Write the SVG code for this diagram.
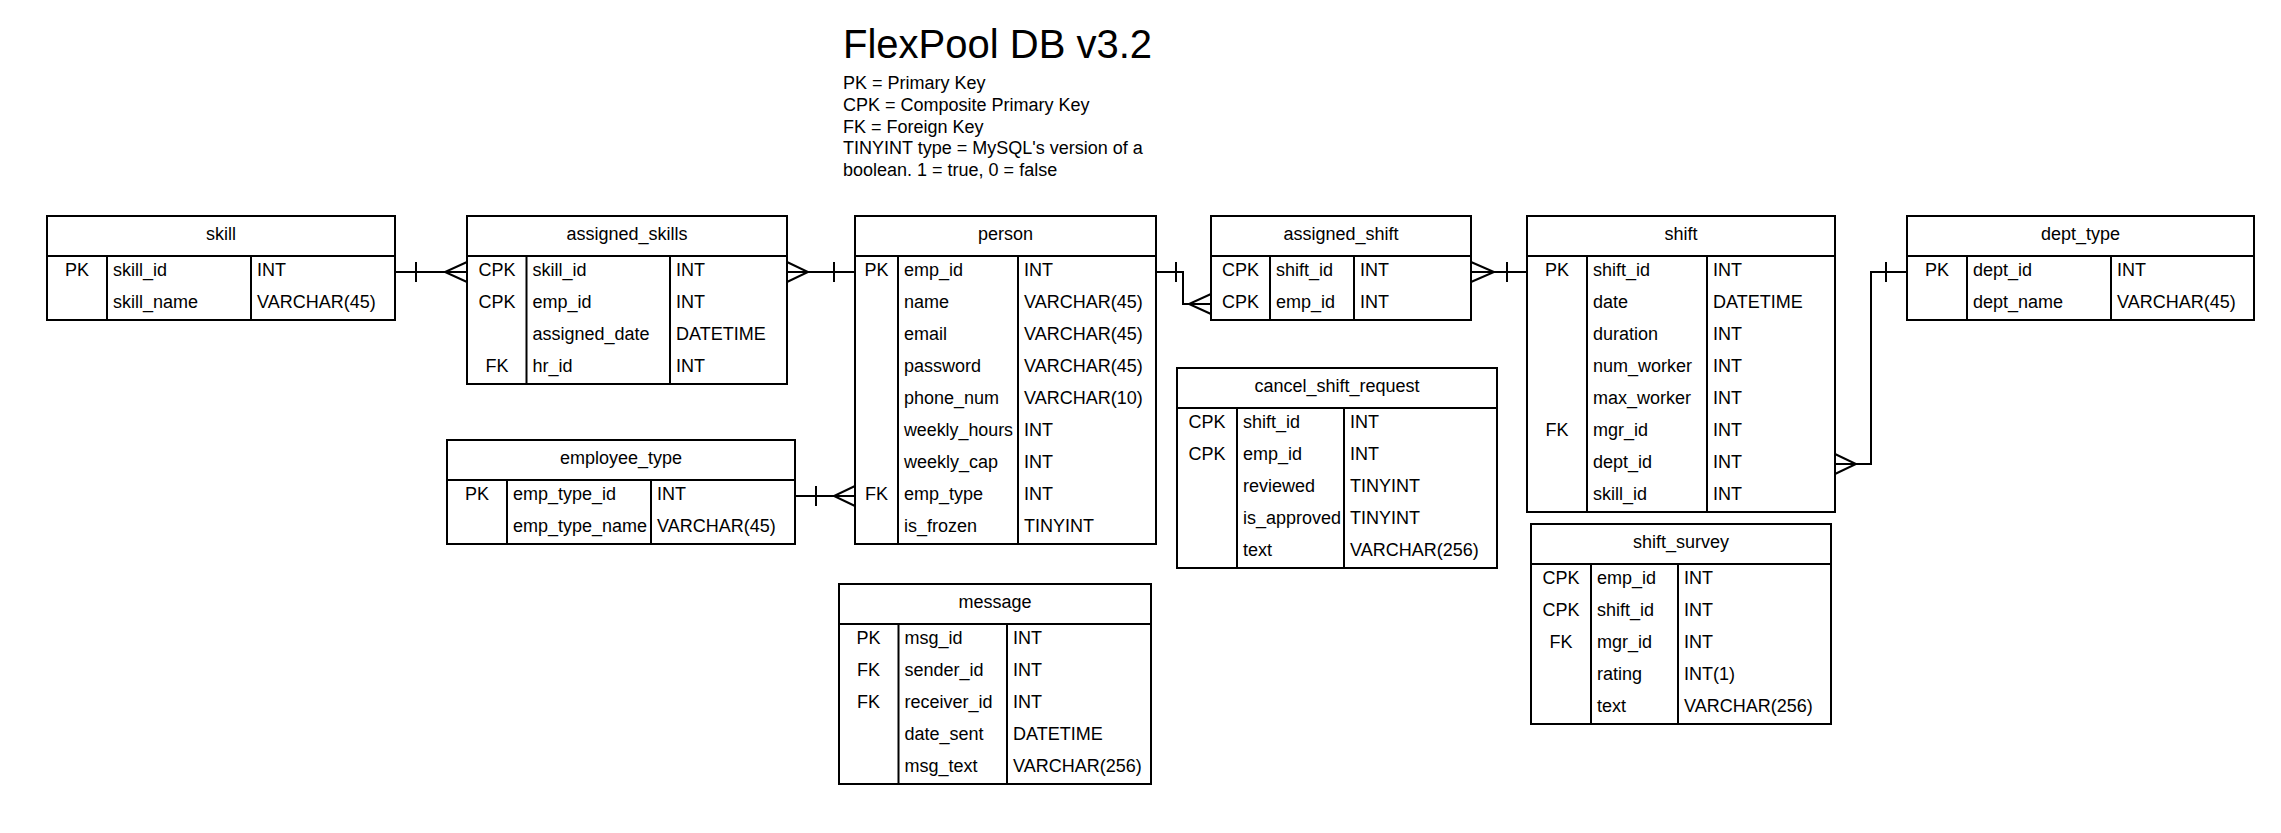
<svg xmlns="http://www.w3.org/2000/svg" width="2281" height="833" viewBox="0 0 2281 833">
<style>
.box{fill:#fff;stroke:#000;stroke-width:2}
.ln{stroke:#000;stroke-width:2;fill:none}
text{font-family:"Liberation Sans",Arial,sans-serif;font-size:18px;fill:#000}
.c{text-anchor:middle}
.title{font-size:40px}
</style>
<rect width="2281" height="833" fill="#fff"/>
<g id="legend">
<text class="title" x="843" y="58">FlexPool DB v3.2</text>
<text x="843" y="89">PK = Primary Key</text>
<text x="843" y="111">CPK = Composite Primary Key</text>
<text x="843" y="132.5">FK = Foreign Key</text>
<text x="843" y="154">TINYINT type = MySQL's version of a</text>
<text x="843" y="176">boolean. 1 = true, 0 = false</text>
</g>
<g id="connectors" class="ln">
<path d="M395 272H467M416 262V282M467 262L445 272L467 282"/>
<path d="M787 272H855M834 262V282M787 262L808 272L787 282"/>
<path d="M1156 272H1183V304H1211M1176 262V282M1211 294L1189 304L1211 314"/>
<path d="M1471 272H1527M1507 262V282M1471 262L1494 272L1471 282"/>
<path d="M1835 464H1871V272H1907M1886 262V282M1835 454L1856 464L1835 474"/>
<path d="M795 496H855M816 486V506M855 486L834 496L855 506"/>
</g>
<g id="skill">
<rect class="box" x="47" y="216" width="348" height="104"/>
<path class="ln" d="M47 256H395M107 256V320M251 256V320"/>
<text class="c" x="221" y="239.5">skill</text>
<text class="c" x="77" y="275.5">PK</text><text x="113" y="275.5">skill_id</text><text x="257" y="275.5">INT</text>
<text x="113" y="307.5">skill_name</text><text x="257" y="307.5">VARCHAR(45)</text>
</g>
<g id="assigned_skills">
<rect class="box" x="467" y="216" width="320" height="168"/>
<path class="ln" d="M467 256H787M526.5 256V384M670 256V384"/>
<text class="c" x="627" y="239.5">assigned_skills</text>
<text class="c" x="497" y="275.5">CPK</text><text x="532.5" y="275.5">skill_id</text><text x="676" y="275.5">INT</text>
<text class="c" x="497" y="307.5">CPK</text><text x="532.5" y="307.5">emp_id</text><text x="676" y="307.5">INT</text>
<text x="532.5" y="339.5">assigned_date</text><text x="676" y="339.5">DATETIME</text>
<text class="c" x="497" y="371.5">FK</text><text x="532.5" y="371.5">hr_id</text><text x="676" y="371.5">INT</text>
</g>
<g id="person">
<rect class="box" x="855" y="216" width="301" height="328"/>
<path class="ln" d="M855 256H1156M898 256V544M1018 256V544"/>
<text class="c" x="1005.5" y="239.5">person</text>
<text class="c" x="876.5" y="275.5">PK</text><text x="904" y="275.5">emp_id</text><text x="1024" y="275.5">INT</text>
<text x="904" y="307.5">name</text><text x="1024" y="307.5">VARCHAR(45)</text>
<text x="904" y="339.5">email</text><text x="1024" y="339.5">VARCHAR(45)</text>
<text x="904" y="371.5">password</text><text x="1024" y="371.5">VARCHAR(45)</text>
<text x="904" y="403.5">phone_num</text><text x="1024" y="403.5">VARCHAR(10)</text>
<text x="904" y="435.5" textLength="109" lengthAdjust="spacingAndGlyphs">weekly_hours</text><text x="1024" y="435.5">INT</text>
<text x="904" y="467.5">weekly_cap</text><text x="1024" y="467.5">INT</text>
<text class="c" x="876.5" y="499.5">FK</text><text x="904" y="499.5">emp_type</text><text x="1024" y="499.5">INT</text>
<text x="904" y="531.5">is_frozen</text><text x="1024" y="531.5">TINYINT</text>
</g>
<g id="assigned_shift">
<rect class="box" x="1211" y="216" width="260" height="104"/>
<path class="ln" d="M1211 256H1471M1270 256V320M1354 256V320"/>
<text class="c" x="1341" y="239.5">assigned_shift</text>
<text class="c" x="1240.5" y="275.5">CPK</text><text x="1276" y="275.5">shift_id</text><text x="1360" y="275.5">INT</text>
<text class="c" x="1240.5" y="307.5">CPK</text><text x="1276" y="307.5">emp_id</text><text x="1360" y="307.5">INT</text>
</g>
<g id="shift">
<rect class="box" x="1527" y="216" width="308" height="296"/>
<path class="ln" d="M1527 256H1835M1587 256V512M1707 256V512"/>
<text class="c" x="1681" y="239.5">shift</text>
<text class="c" x="1557" y="275.5">PK</text><text x="1593" y="275.5">shift_id</text><text x="1713" y="275.5">INT</text>
<text x="1593" y="307.5">date</text><text x="1713" y="307.5">DATETIME</text>
<text x="1593" y="339.5">duration</text><text x="1713" y="339.5">INT</text>
<text x="1593" y="371.5">num_worker</text><text x="1713" y="371.5">INT</text>
<text x="1593" y="403.5">max_worker</text><text x="1713" y="403.5">INT</text>
<text class="c" x="1557" y="435.5">FK</text><text x="1593" y="435.5">mgr_id</text><text x="1713" y="435.5">INT</text>
<text x="1593" y="467.5">dept_id</text><text x="1713" y="467.5">INT</text>
<text x="1593" y="499.5">skill_id</text><text x="1713" y="499.5">INT</text>
</g>
<g id="dept_type">
<rect class="box" x="1907" y="216" width="347" height="104"/>
<path class="ln" d="M1907 256H2254M1967 256V320M2111 256V320"/>
<text class="c" x="2080.5" y="239.5">dept_type</text>
<text class="c" x="1937" y="275.5">PK</text><text x="1973" y="275.5">dept_id</text><text x="2117" y="275.5">INT</text>
<text x="1973" y="307.5">dept_name</text><text x="2117" y="307.5">VARCHAR(45)</text>
</g>
<g id="employee_type">
<rect class="box" x="447" y="440" width="348" height="104"/>
<path class="ln" d="M447 480H795M507 480V544M651 480V544"/>
<text class="c" x="621" y="463.5">employee_type</text>
<text class="c" x="477" y="499.5">PK</text><text x="513" y="499.5">emp_type_id</text><text x="657" y="499.5">INT</text>
<text x="513" y="531.5">emp_type_name</text><text x="657" y="531.5">VARCHAR(45)</text>
</g>
<g id="cancel_shift_request">
<rect class="box" x="1177" y="368" width="320" height="200"/>
<path class="ln" d="M1177 408H1497M1237 408V568M1344 408V568"/>
<text class="c" x="1337" y="391.5">cancel_shift_request</text>
<text class="c" x="1207" y="427.5">CPK</text><text x="1243" y="427.5">shift_id</text><text x="1350" y="427.5">INT</text>
<text class="c" x="1207" y="459.5">CPK</text><text x="1243" y="459.5">emp_id</text><text x="1350" y="459.5">INT</text>
<text x="1243" y="491.5">reviewed</text><text x="1350" y="491.5">TINYINT</text>
<text x="1243" y="523.5">is_approved</text><text x="1350" y="523.5">TINYINT</text>
<text x="1243" y="555.5">text</text><text x="1350" y="555.5">VARCHAR(256)</text>
</g>
<g id="shift_survey">
<rect class="box" x="1531" y="524" width="300" height="200"/>
<path class="ln" d="M1531 564H1831M1591 564V724M1678 564V724"/>
<text class="c" x="1681" y="547.5">shift_survey</text>
<text class="c" x="1561" y="583.5">CPK</text><text x="1597" y="583.5">emp_id</text><text x="1684" y="583.5">INT</text>
<text class="c" x="1561" y="615.5">CPK</text><text x="1597" y="615.5">shift_id</text><text x="1684" y="615.5">INT</text>
<text class="c" x="1561" y="647.5">FK</text><text x="1597" y="647.5">mgr_id</text><text x="1684" y="647.5">INT</text>
<text x="1597" y="679.5">rating</text><text x="1684" y="679.5">INT(1)</text>
<text x="1597" y="711.5">text</text><text x="1684" y="711.5">VARCHAR(256)</text>
</g>
<g id="message">
<rect class="box" x="839" y="584" width="312" height="200"/>
<path class="ln" d="M839 624H1151M898.5 624V784M1007 624V784"/>
<text class="c" x="995" y="607.5">message</text>
<text class="c" x="868.5" y="643.5">PK</text><text x="904.5" y="643.5">msg_id</text><text x="1013" y="643.5">INT</text>
<text class="c" x="868.5" y="675.5">FK</text><text x="904.5" y="675.5">sender_id</text><text x="1013" y="675.5">INT</text>
<text class="c" x="868.5" y="707.5">FK</text><text x="904.5" y="707.5">receiver_id</text><text x="1013" y="707.5">INT</text>
<text x="904.5" y="739.5">date_sent</text><text x="1013" y="739.5">DATETIME</text>
<text x="904.5" y="771.5">msg_text</text><text x="1013" y="771.5">VARCHAR(256)</text>
</g>
</svg>
